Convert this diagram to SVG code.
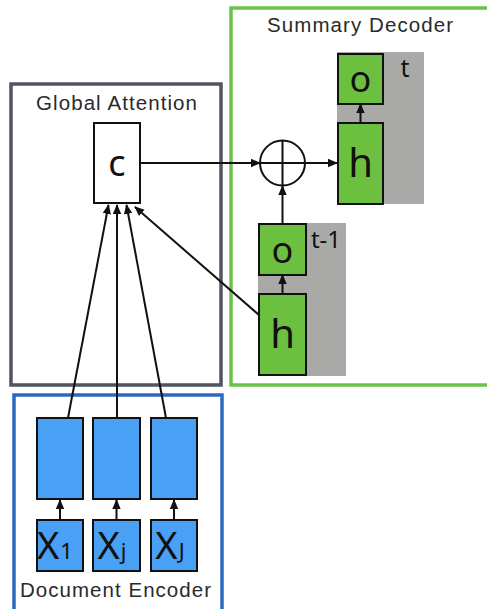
<svg xmlns="http://www.w3.org/2000/svg" width="487" height="609" viewBox="0 0 487 609">
  <style>
    .frame { fill: none; stroke-width: 3.5; }
    .box { stroke: #111; stroke-width: 2; }
    .enc { fill: #4aa0f5; }
    .dec { fill: #6dbf40; }
    .step { fill: #a9aaa8; }
    .title { font-family: "Liberation Sans", "Noto Sans", sans-serif; font-size: 20.5px; fill: #2a2a2a; }
    .sym { font-family: "Noto Sans", "Liberation Sans", sans-serif; fill: #111; text-anchor: middle; }
    .edge { stroke: #111; stroke-width: 2; fill: none; marker-end: url(#arrow); }
  </style>
  <defs>
    <marker id="arrow" markerUnits="userSpaceOnUse" markerWidth="10" markerHeight="10" viewBox="0 0 10 10" refX="9" refY="5" orient="auto">
      <path d="M0,0.8 L10,5 L0,9.2 Z" fill="#111"/>
    </marker>
  </defs>
  <rect width="487" height="609" fill="#fff"/>

  <!-- module frames -->
  <g id="global-attention">
    <rect class="frame" x="11" y="84" width="210" height="301" stroke="#50545c"/>
    <text class="title" x="36" y="110" textLength="161">Global Attention</text>
  </g>
  <g id="summary-decoder">
    <rect class="frame" x="231" y="8" width="262" height="377" stroke="#6cc24a"/>
    <text class="title" x="267" y="32" textLength="186">Summary Decoder</text>
  </g>
  <g id="document-encoder">
    <rect class="frame" x="14" y="395" width="208" height="222" stroke="#2a68c4"/>
    <text class="title" x="20" y="597" textLength="191">Document Encoder</text>
  </g>

  <!-- time step backgrounds -->
  <rect class="step" x="337" y="52" width="87" height="152"/>
  <rect class="step" x="258" y="223" width="88" height="153"/>
  <text class="sym" x="405" y="77" font-size="25">t</text>
  <text class="sym" x="326" y="248" font-size="24">t-1</text>

  <!-- context vector -->
  <g id="c">
    <rect class="box" x="94" y="123" width="46" height="80" fill="#fff"/>
    <text class="sym" x="117" y="176" font-size="36">c</text>
  </g>

  <!-- combine node -->
  <g id="plus">
    <circle cx="282.5" cy="163" r="22.5" fill="#fff" stroke="#111" stroke-width="2"/>
    <path d="M260 163 H305 M282.5 140.5 V185.5" stroke="#111" stroke-width="2"/>
  </g>

  <!-- decoder step t -->
  <g id="o-t">
    <rect class="box dec" x="338" y="54" width="45" height="50"/>
    <text class="sym" x="360.5" y="92" font-size="36">o</text>
  </g>
  <g id="h-t">
    <rect class="box dec" x="338" y="123" width="45" height="81"/>
    <text class="sym" x="360.5" y="177" font-size="40">h</text>
  </g>

  <!-- decoder step t-1 -->
  <g id="o-t1">
    <rect class="box dec" x="259" y="224" width="47" height="51"/>
    <text class="sym" x="282.5" y="263" font-size="36">o</text>
  </g>
  <g id="h-t1">
    <rect class="box dec" x="259" y="294" width="47" height="81"/>
    <text class="sym" x="282.5" y="348" font-size="40">h</text>
  </g>

  <!-- encoder states -->
  <g id="enc-1"><rect class="box enc" x="37" y="418" width="46" height="81"/></g>
  <g id="enc-j"><rect class="box enc" x="93" y="418" width="47" height="81"/></g>
  <g id="enc-J"><rect class="box enc" x="151" y="418" width="46" height="81"/></g>

  <!-- encoder inputs -->
  <g id="x-1">
    <rect class="box enc" x="37" y="520" width="46" height="51"/>
    <text class="sym" x="55" y="559" font-size="38">X<tspan font-size="22" dx="1">1</tspan></text>
  </g>
  <g id="x-j">
    <rect class="box enc" x="93" y="520" width="47" height="51"/>
    <text class="sym" x="112" y="559" font-size="38">X<tspan font-size="22" dx="1">j</tspan></text>
  </g>
  <g id="x-J">
    <rect class="box enc" x="151" y="520" width="46" height="51"/>
    <text class="sym" x="170" y="559" font-size="38">X<tspan font-size="22" dx="1">J</tspan></text>
  </g>

  <!-- connectors -->
  <g id="connectors">
    <line class="edge" x1="140" y1="163" x2="260" y2="163"/>
    <line class="edge" x1="305" y1="163" x2="337" y2="163"/>
    <line class="edge" x1="360.5" y1="123" x2="360.5" y2="104"/>
    <line class="edge" x1="282.5" y1="294" x2="282.5" y2="275"/>
    <line class="edge" x1="282.5" y1="224" x2="282.5" y2="186"/>
    <line class="edge" x1="259" y1="315" x2="135" y2="207"/>
    <line class="edge" x1="68" y1="418" x2="108.5" y2="205"/>
    <line class="edge" x1="117" y1="418" x2="117" y2="205"/>
    <line class="edge" x1="166" y1="418" x2="126.5" y2="205"/>
    <line class="edge" x1="60" y1="520" x2="60" y2="500"/>
    <line class="edge" x1="116.5" y1="520" x2="116.5" y2="500"/>
    <line class="edge" x1="174" y1="520" x2="174" y2="500"/>
  </g>
</svg>
